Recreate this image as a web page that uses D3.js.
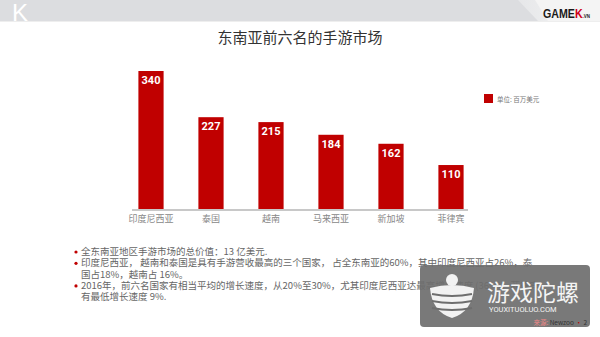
<!DOCTYPE html>
<html lang="zh">
<head>
<meta charset="UTF-8">
<style>
  html, body { margin: 0; padding: 0; background: #fff; }
  svg { display: block; font-family: "Noto Sans CJK SC", "Noto Sans", sans-serif; }
</style>
<script src="https://d3js.org/d3.v7.min.js"></script>
</head>
<body>
<svg id="chart" width="600" height="337"></svg>
<script>
// data
const categories = ["印度尼西亚", "泰国", "越南", "马来西亚", "新加坡", "菲律宾"];
const values = [340, 227, 215, 184, 162, 110];
const legendLabel = "单位: 百万美元";
const title = "东南亚前六名的手游市场";
const bullets = [
  ["全东南亚地区手游市场的总价值：13 亿美元."],
  ["印度尼西亚， 越南和泰国是具有手游营收最高的三个国家， 占全东南亚的60%，其中印度尼西亚占26%，泰",
   "国占18%，越南占 16%。"],
  ["2016年，前六名国家有相当平均的增长速度，从20%至30%，尤其印度尼西亚达最高增长速度 (36%)，菲律宾",
   "有最低增长速度 9%."]
];

const svg = d3.select("#chart");
const red = "#c00000";

// header band
svg.append("rect").attr("x", 0).attr("y", 0).attr("width", 600).attr("height", 21).attr("fill", "#dcdde0");
const grad = svg.append("defs").append("linearGradient").attr("id", "hg")
  .attr("x1", "0").attr("x2", "1").attr("y1", "0").attr("y2", "0");
grad.append("stop").attr("offset", "0").attr("stop-color", "#e6e7e9");
grad.append("stop").attr("offset", "1").attr("stop-color", "#f7f7f7");
svg.append("path").attr("d", "M518,0 L600,0 L600,21 L538,21 Z").attr("fill", "url(#hg)");
svg.append("path").attr("d", "M535,0 L600,0 L600,21 L548,21 Z").attr("fill", "#f4f4f4");
svg.append("line").attr("x1", 0).attr("x2", 600).attr("y1", 21.5).attr("y2", 21.5)
  .attr("stroke", "#eeeeee").attr("stroke-width", 1);
svg.append("text").attr("x", 12).attr("y", 21).attr("font-size", 24)
  .attr("fill", "#fff").attr("font-family", "Liberation Sans, sans-serif").text("K");
// GAMEK logo, drawn as one text with tspans so nothing overlaps
const logo = svg.append("text").attr("x", 543).attr("y", 18)
  .attr("font-family", "Liberation Sans, sans-serif").attr("font-weight", "bold")
  .attr("fill", "#1a1a1a").attr("font-size", 12)
  .attr("textLength", 47).attr("lengthAdjust", "spacingAndGlyphs");
logo.append("tspan").text("GAME");
logo.append("tspan").attr("fill", "#d0021b").text("K");
logo.append("tspan").attr("font-size", 5).text(".VN");

// title
svg.append("text").attr("x", 300).attr("y", 43).attr("text-anchor", "middle")
  .attr("font-size", 15).attr("fill", "#333").text(title);

// scales
const x = d3.scaleBand().domain(categories).range([121, 481]).paddingInner(0.58).paddingOuter(0.29);
const y = d3.scaleLinear().domain([0, 340]).range([210, 71]);

svg.selectAll("rect.bar").data(values).enter().append("rect")
  .attr("class", "bar")
  .attr("x", (d, i) => x(categories[i]))
  .attr("width", x.bandwidth())
  .attr("y", d => y(d))
  .attr("height", d => y(0) - y(d))
  .attr("fill", red);

svg.selectAll("text.val").data(values).enter().append("text")
  .attr("class", "val")
  .attr("x", (d, i) => x(categories[i]) + x.bandwidth() / 2)
  .attr("y", d => y(d) + 13)
  .attr("text-anchor", "middle")
  .attr("font-size", 11).attr("font-weight", "bold").attr("fill", "#fff")
  .attr("font-family", "Roboto, sans-serif")
  .text(d => d);

// baseline axis
const axis = svg.append("g").attr("transform", `translate(0,${y(0)})`)
  .call(d3.axisBottom(x).tickSize(0).tickPadding(6));
axis.select(".domain").attr("stroke", "#c8c8c8").attr("stroke-width", 2)
  .attr("d", "M132,0H468");
axis.selectAll("text").attr("font-size", 9).attr("fill", "#888")
  .attr("font-family", "Noto Sans CJK SC, sans-serif");

// legend
svg.append("rect").attr("x", 484).attr("y", 94).attr("width", 9).attr("height", 9).attr("fill", red);
svg.append("text").attr("x", 497).attr("y", 101.5).attr("font-size", 6.5).attr("fill", "#777").text(legendLabel);

// bullet notes
let lineY = 255;
bullets.forEach(b => {
  svg.append("circle").attr("cx", 76).attr("cy", lineY - 3).attr("r", 1.6).attr("fill", red);
  b.forEach(line => {
    svg.append("text").attr("x", 81).attr("y", lineY).attr("font-size", 9.5).attr("fill", "#666").text(line);
    lineY += 11.3;
  });
});

// watermark overlay
const wm = svg.append("g");
wm.append("rect").attr("x", 420).attr("y", 265).attr("width", 170).attr("height", 62).attr("rx", 4)
  .attr("fill", "#6e6e6e").attr("opacity", 0.92);
// stylised gyro logo
wm.append("circle").attr("cx", 452).attr("cy", 280).attr("r", 6).attr("fill", "#f2f2f2");
wm.append("path").attr("d", "M430,288 Q452,282 474,288 Q472,312 452,318 Q432,312 430,288 Z").attr("fill", "#f2f2f2");
[294, 301, 308].forEach(yy => {
  wm.append("path").attr("d", `M432,${yy} Q452,${yy + 4} 472,${yy}`).attr("stroke", "#6e6e6e")
    .attr("stroke-width", 2).attr("fill", "none");
});
wm.append("text").attr("x", 487).attr("y", 301).attr("font-size", 23).attr("fill", "#f4f4f4").text("游戏陀螺");
wm.append("text").attr("x", 489).attr("y", 312).attr("font-size", 7.5).attr("fill", "#f4f4f4")
  .attr("font-family", "Roboto, sans-serif").text("YOUXITUOLUO.COM");
const src = svg.append("text").attr("x", 587).attr("y", 325).attr("text-anchor", "end").attr("font-size", 6.5);
src.append("tspan").attr("fill", "#e88").text("来源: ");
src.append("tspan").attr("fill", "#333").text("Newzoo ");
src.append("tspan").attr("fill", red).text("•");
src.append("tspan").attr("fill", "#333").text(" 2");
</script>
</body>
</html>
